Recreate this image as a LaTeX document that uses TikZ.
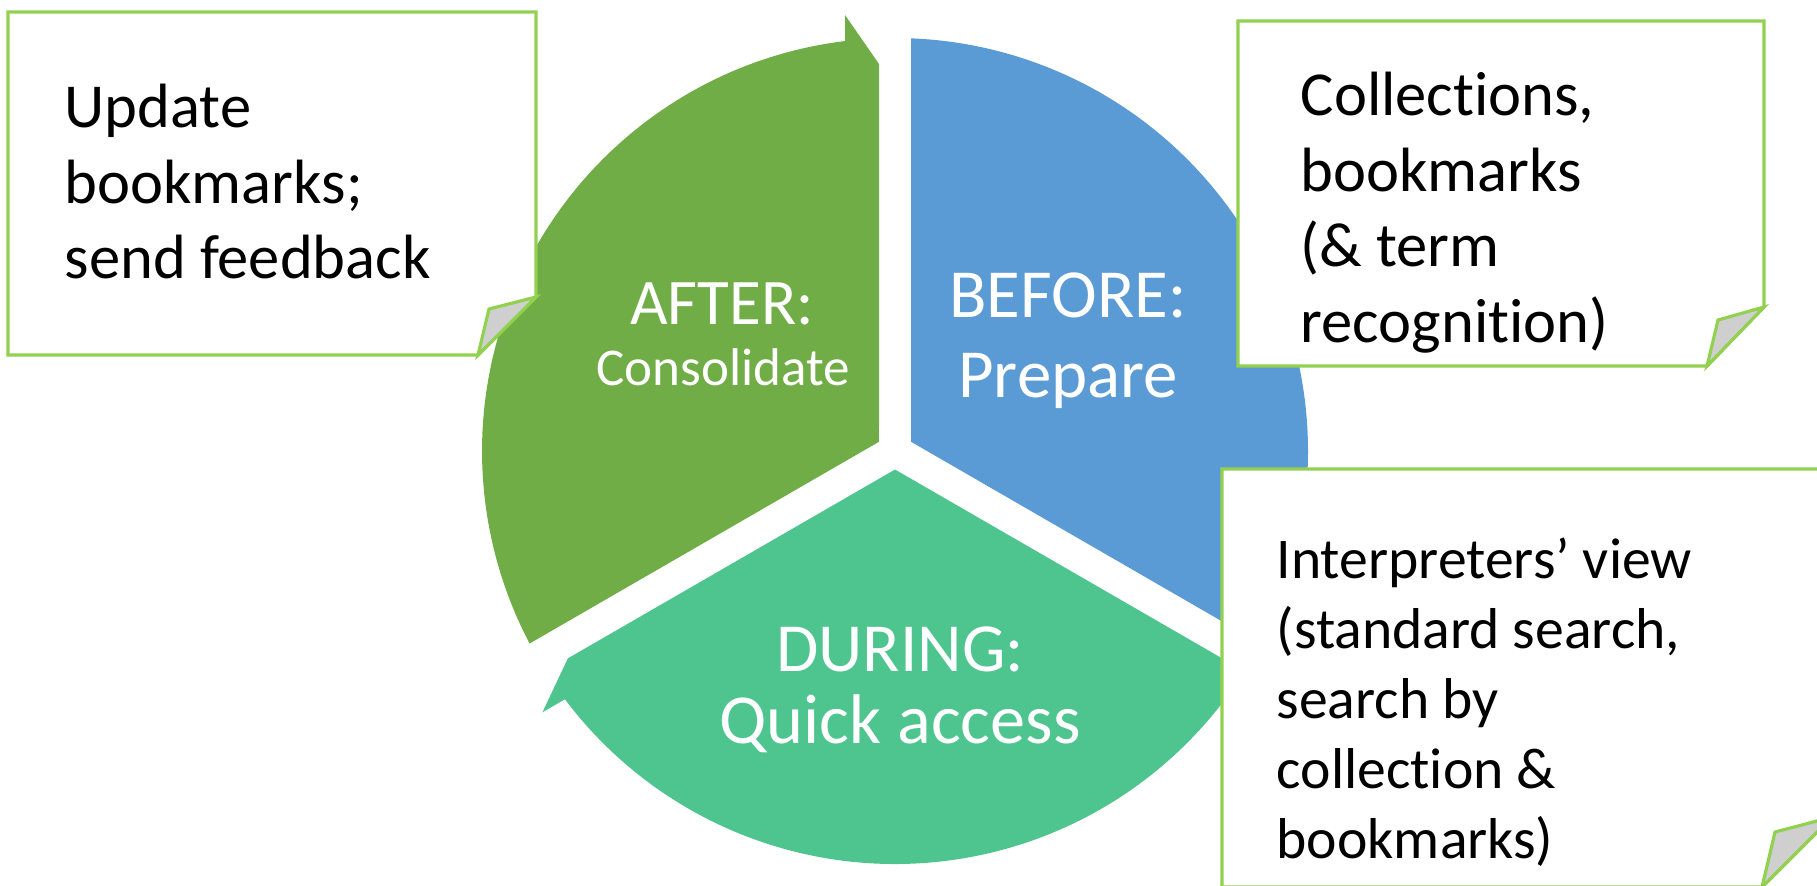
\documentclass[tikz,border=0pt]{standalone}
\usepackage{fontspec}
\setmainfont[Ligatures={NoCommon}]{Carlito}
\definecolor{afterc}{HTML}{70AD47}
\definecolor{beforec}{HTML}{5B9BD5}
\definecolor{duringc}{HTML}{4EC58E}
\definecolor{noteline}{HTML}{92D050}
\definecolor{foldgray}{HTML}{CFCFCF}
\tikzset{
	notestyle/.style={draw=noteline,line width=0.9pt,fill=white},
	foldstyle/.style={draw=noteline,line width=0.9pt,fill=foldgray},
	notetext/.style={anchor=north west,align=left,inner sep=0pt,font=\fontsize{17.8}{21.6}\selectfont},
	labeltext/.style={anchor=base,inner sep=0pt,text=white}
}
\begin{document}
\begin{tikzpicture}
		\useasboundingbox (0,0) rectangle (18.17,-8.85);
		\clip (0,0) rectangle (18.17,-8.85);
		% cycle segments
		\fill[afterc,shift={(8.95,-4.51)},rotate=0] (150:0.185) -- (-0.16,3.87) -- (-0.5,4.36) -- (96.95:4.13) arc[start angle=96.95,end angle=207.78,radius=4.13] -- cycle;
		\fill[duringc,shift={(8.95,-4.51)},rotate=120] (150:0.185) -- (-0.16,3.87) -- (-0.5,4.36) -- (96.95:4.13) arc[start angle=96.95,end angle=207.78,radius=4.13] -- cycle;
		\fill[beforec,shift={(8.95,-4.51)},rotate=240] (150:0.185) -- (-0.16,3.87) -- (-0.5,4.36) -- (96.95:4.13) arc[start angle=96.95,end angle=207.78,radius=4.13] -- cycle;
		% notes
		\draw[notestyle] (0.08,-0.12) -- (5.36,-0.12) -- (5.36,-2.97) -- (4.78,-3.55) -- (0.08,-3.55) -- cycle;
		\draw[foldstyle] (5.36,-2.97) -- (4.89,-3.09) -- (4.78,-3.55) -- cycle;
		\draw[notestyle] (12.38,-0.21) -- (17.64,-0.21) -- (17.64,-3.07) -- (17.07,-3.66) -- (12.38,-3.66) -- cycle;
		\draw[foldstyle] (17.64,-3.07) -- (17.18,-3.20) -- (17.07,-3.66) -- cycle;
		\draw[notestyle] (12.22,-4.69) -- (18.32,-4.69) -- (18.32,-8.17) -- (17.62,-8.87) -- (12.22,-8.87) -- cycle;
		\draw[foldstyle] (18.32,-8.17) -- (17.75,-8.32) -- (17.62,-8.87) -- cycle;
		\node[notetext] (afternote) at (0.64,-0.83) {Update\\bookmarks;\\send feedback};
		\node[notetext] (beforenote) at (13.00,-0.71) {Collections,\\bookmarks\\(\& term\\recognition)};
		\node[notetext,font=\fontsize{16.4}{19.9}\selectfont] (duringnote) at (12.76,-5.37) {Interpreters’ view\\(standard search,\\search by\\collection \&\\bookmarks)};
		% segment labels
		\node[labeltext,font=\fontsize{18.5}{22}\selectfont] (after) at (7.22,-3.24) {AFTER:};
		\node[labeltext,font=\fontsize{15.1}{18}\selectfont] (consolidate) at (7.23,-3.85) {Consolidate};
		\node[labeltext,font=\fontsize{19.6}{23}\selectfont] (before) at (10.68,-3.17) {BEFORE:};
		\node[labeltext,font=\fontsize{19.6}{23}\selectfont] (prepare) at (10.68,-3.97) {Prepare};
		\node[labeltext,font=\fontsize{19.6}{23}\selectfont] (during) at (9.00,-6.71) {DURING:};
		\node[labeltext,font=\fontsize{20}{23}\selectfont] (quick) at (9.00,-7.43) {Quick access};
		\end{tikzpicture}
\end{document}
